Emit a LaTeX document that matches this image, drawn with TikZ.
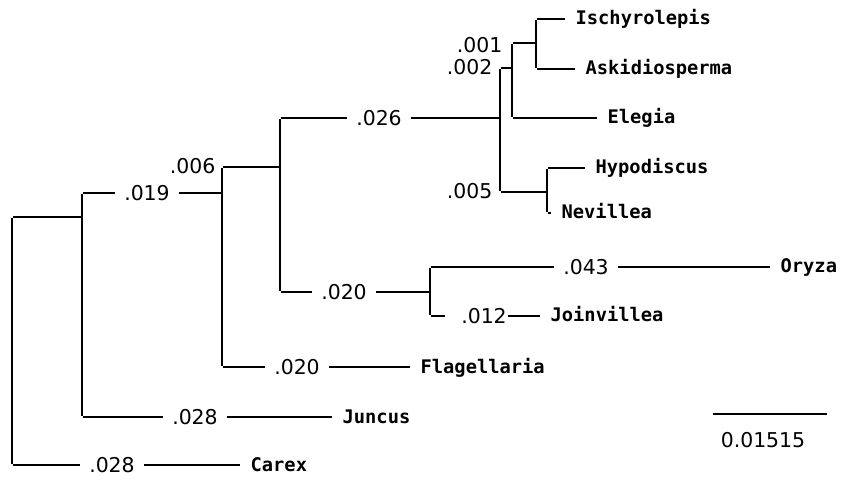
\documentclass[tikz,border=0pt]{standalone}
\usepackage{fontspec}
\newfontfamily\taxonfont{DejaVu Sans Mono}
\newfontfamily\lenfont{DejaVu Sans}
\usepackage{tikz}

\tikzset{
  taxon/.style={anchor=west, inner xsep=10bp, inner ysep=0pt, text height=12bp, text depth=0pt,
                font=\taxonfont\bfseries\fontsize{18.8}{20}\selectfont},
  brlen/.style={inner xsep=9bp, inner ysep=0pt, text height=15bp, text depth=0pt,
                font=\lenfont\fontsize{20.5}{22}\selectfont},
  nodelen/.style={brlen, anchor=east, inner xsep=1bp}
}

\begin{document}
\begin{tikzpicture}[x=1bp, y=-1bp, line width=1.3bp]
\useasboundingbox (0,0) rectangle (842,481);

% corners of the clades
\begin{scope}[every node/.style={inner sep=0pt, minimum size = 0pt}]
    \node (r1) at (12,217) {};
    \node (r2) at (12,465) {};
    \node (a1) at (82,193) {};
    \node (a0) at (82,217) {};
    \node (a2) at (82,417) {};
    \node (b1) at (222,167) {};
    \node (b0) at (222,193) {};
    \node (b2) at (222,367) {};
    \node (c1) at (280,118) {};
    \node (c0) at (280,167) {};
    \node (c2) at (280,292) {};
    \node (d1) at (430,267) {};
    \node (d0) at (430,292) {};
    \node (d2) at (430,316) {};
    \node (e1) at (500,68) {};
    \node (e0) at (500,118) {};
    \node (e2) at (500,192) {};
    \node (f1) at (512,43) {};
    \node (f0) at (512,68) {};
    \node (f2) at (512,118) {};
    \node (g1) at (536,19) {};
    \node (g0) at (536,43) {};
    \node (g2) at (536,69) {};
    \node (h1) at (547,168) {};
    \node (h0) at (547,192) {};
    \node (h2) at (547,213) {};
\end{scope}

% taxa
\node[taxon] (carex) at (240,465) {Carex};
\node[taxon] (juncus) at (332,417) {Juncus};
\node[taxon] (flag) at (410,367) {Flagellaria};
\node[taxon] (oryza) at (770,267) {Oryza};
\node[taxon] (join) at (540,316) {Joinvillea};
\node[taxon] (elegia) at (597,118) {Elegia};
\node[taxon] (ischy) at (565,19) {Ischyrolepis};
\node[taxon] (askid) at (575,69) {Askidiosperma};
\node[taxon] (hypo) at (585,168) {Hypodiscus};
\node[taxon] (nev) at (551,213) {Nevillea};

% branch lengths
\node[brlen] (lcarex) at (112,465) {.028};
\node[brlen] (ljuncus) at (195,417) {.028};
\node[brlen] (la) at (147,193) {.019};
\node[brlen] (lflag) at (297,367) {.020};
\node[brlen] (lc) at (379,118) {.026};
\node[brlen] (ld) at (344,292) {.020};
\node[brlen] (loryza) at (586,267) {.043};
\node[brlen, inner xsep=1bp] (ljoin) at (484,316) {.012};
\node[nodelen] (lb) at (217,166) {.006};
\node[nodelen] (le) at (494,67) {.002};
\node[nodelen] (lf) at (504,45) {.001};
\node[nodelen] (lh) at (494,191) {.005};

\begin{scope}[every edge/.style={draw=black}]
    % verticals
    \path [-] (r1) edge (r2);
    \path [-] (a1) edge (a2);
    \path [-] (b1) edge (b2);
    \path [-] (c1) edge (c2);
    \path [-] (d1) edge (d2);
    \path [-] (e1) edge (e2);
    \path [-] (f1) edge (f2);
    \path [-] (g1) edge (g2);
    \path [-] (h1) edge (h2);
\end{scope}

\begin{scope}[every edge/.style={draw=black}]
    % branches with a length in the middle
    \path [-] (r2) edge (lcarex) (lcarex) edge (carex);
    \path [-] (a2) edge (ljuncus) (ljuncus) edge (juncus);
    \path [-] (a1) edge (la) (la) edge (b0);
    \path [-] (b2) edge (lflag) (lflag) edge (flag);
    \path [-] (c1) edge (lc) (lc) edge (e0);
    \path [-] (c2) edge (ld) (ld) edge (d0);
    \path [-] (d1) edge (loryza) (loryza) edge (oryza);
    \path [-] (d2) edge [shorten >=15bp] (ljoin) (ljoin) edge (join);
\end{scope}

\begin{scope}[every edge/.style={draw=black}]
    \path [-] (r1) edge (a0);
    \path [-] (b1) edge (c0);
    \path [-] (e1) edge (f0);
    \path [-] (e2) edge (h0);
    \path [-] (f1) edge (g0);
    \path [-] (f2) edge (elegia);
    \path [-] (g1) edge (ischy);
    \path [-] (g2) edge (askid);
    \path [-] (h1) edge (hypo);
    \path [-] (h2) edge (nev);
\end{scope}

% scale bar
\begin{scope}[every node/.style={inner sep=0pt, minimum size = 0pt}]
    \node (sb1) at (712,414) {};
    \node (sb2) at (828,414) {};
\end{scope}
\path [-] (sb1) edge [draw=black] (sb2);
\node[brlen, inner xsep=0pt] (sblabel) at (763,440) {0.01515};

\end{tikzpicture}
\end{document}
